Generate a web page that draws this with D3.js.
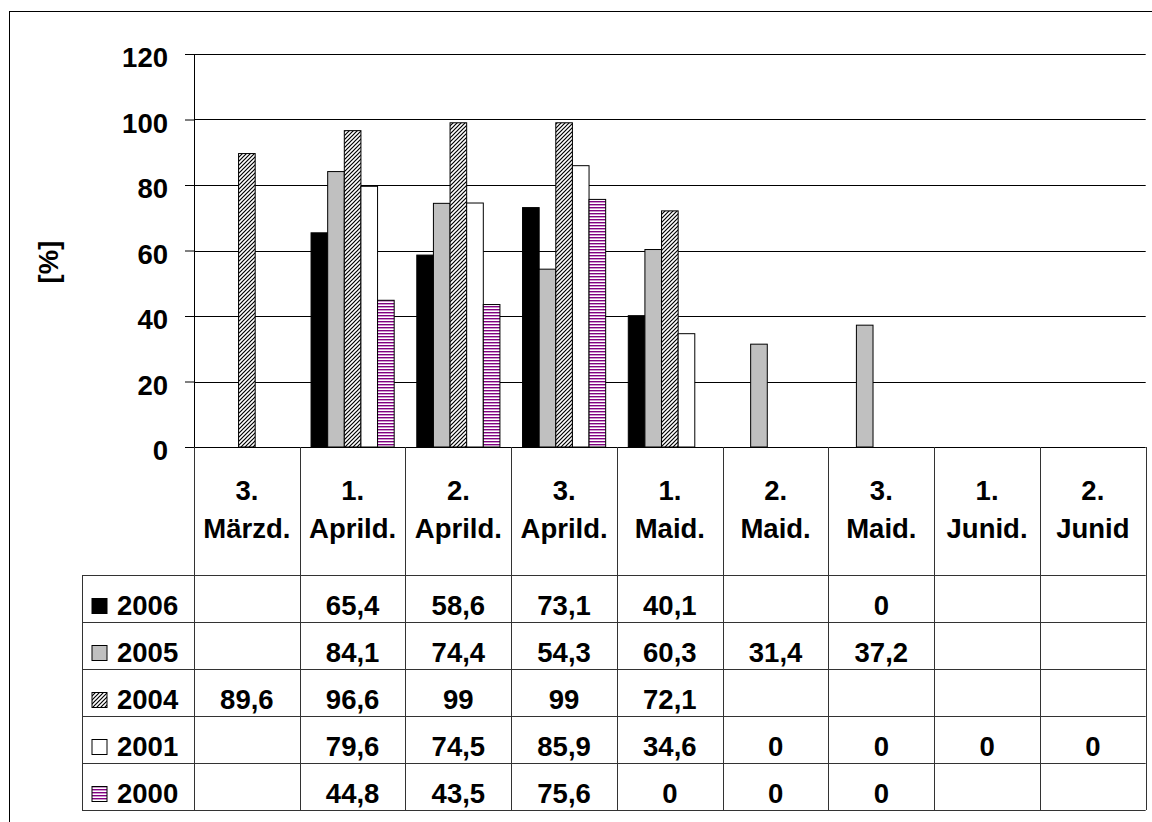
<!DOCTYPE html>
<html>
<head>
<meta charset="utf-8">
<script src="https://cdn.jsdelivr.net/npm/d3@7/dist/d3.min.js"></script>
<style>
  html, body { margin: 0; padding: 0; background: #fff; }
  svg { display: block; }
  text { font-family: "Liberation Sans", Arial, sans-serif; font-weight: bold; fill: #000; }
</style>
</head>
<body>
<svg id="chart" width="1152" height="822"></svg>
<script>
// ---------- data ----------
const categories = [
  ["3.", "Märzd."], ["1.", "Aprild."], ["2.", "Aprild."], ["3.", "Aprild."],
  ["1.", "Maid."], ["2.", "Maid."], ["3.", "Maid."], ["1.", "Junid."], ["2.", "Junid"]
];
const seriesNames = ["2006", "2005", "2004", "2001", "2000"];
const values2006 = [null, 65.4, 58.6, 73.1, 40.1, null, 0, null, null];
const values2005 = [null, 84.1, 74.4, 54.3, 60.3, 31.4, 37.2, null, null];
const values2004 = [89.6, 96.6, 99, 99, 72.1, null, null, null, null];
const values2001 = [null, 79.6, 74.5, 85.9, 34.6, 0, 0, 0, 0];
const values2000 = [null, 44.8, 43.5, 75.6, 0, 0, 0, null, null];
const yTicks = [0, 20, 40, 60, 80, 100, 120];
const yLabel = "[%]";

const seriesValues = [values2006, values2005, values2004, values2001, values2000];

// ---------- layout ----------
const svg = d3.select("#chart");
const plotLeft = 194, plotRight = 1145.7, plotTop = 54, plotBottom = 447;
const tableLeft = 82, headerBottom = 575, rowH = 47;
const fontSize = 27.5;

const defs = svg.append("defs");
const hatch = defs.append("pattern").attr("id", "hatch")
  .attr("patternUnits", "userSpaceOnUse").attr("width", 4).attr("height", 4);
hatch.append("rect").attr("width", 4).attr("height", 4).attr("fill", "#fff");
hatch.append("path").attr("d", "M-1,1 l2,-2 M0,4 l4,-4 M3,5 l2,-2")
  .attr("stroke", "#000").attr("stroke-width", 1.2);

const stripes = defs.append("pattern").attr("id", "stripes")
  .attr("patternUnits", "userSpaceOnUse").attr("width", 4).attr("height", 3);
stripes.append("rect").attr("width", 4).attr("height", 3).attr("fill", "#fff");
stripes.append("rect").attr("width", 4).attr("height", 1.4).attr("fill", "#800080");

const fills = ["#000000", "#c0c0c0", "url(#hatch)", "#ffffff", "url(#stripes)"];

// scales
const x0 = d3.scaleBand().domain(d3.range(categories.length)).range([plotLeft, plotRight]).paddingInner(0).paddingOuter(0);
const x1 = d3.scaleBand().domain(d3.range(seriesNames.length)).range([0, x0.bandwidth()]).paddingInner(0).paddingOuter(0.68);
const y = d3.scaleLinear().domain([0, 120]).range([plotBottom, plotTop]);

// outer frame
svg.append("rect").attr("x", 9.5).attr("y", 11.5).attr("width", 1160).attr("height", 830)
  .attr("fill", "none").attr("stroke", "#000").attr("stroke-width", 1);

// y axis ticks and labels
const yAxis = d3.axisLeft(y).tickValues(yTicks).tickSize(9).tickPadding(17).tickFormat(d3.format("d"));
const gy = svg.append("g").attr("transform", `translate(${plotLeft},0)`).call(yAxis);
gy.select(".domain").remove();
gy.selectAll(".tick line").attr("stroke", "#000");
gy.selectAll(".tick text").attr("font-size", fontSize).attr("dy", "0.46em")
  .style("font-family", '"Liberation Sans", Arial, sans-serif').style("font-weight", "bold").attr("fill", "#000");

// gridlines
svg.append("g").selectAll("line").data(yTicks.filter(d => d > 0)).join("line")
  .attr("x1", plotLeft).attr("x2", plotRight)
  .attr("y1", d => Math.round(y(d)) + 0.5).attr("y2", d => Math.round(y(d)) + 0.5)
  .attr("stroke", "#000").attr("stroke-width", 1);

// bars
const barData = [];
seriesValues.forEach((vals, s) => vals.forEach((v, c) => {
  if (v !== null && v > 0) barData.push({ s, c, v });
}));
svg.append("g").selectAll("rect").data(barData).join("rect")
  .attr("x", d => x0(d.c) + x1(d.s))
  .attr("width", x1.bandwidth())
  .attr("y", d => y(d.v))
  .attr("height", d => y(0) - y(d.v))
  .attr("fill", d => fills[d.s])
  .attr("stroke", "#000").attr("stroke-width", 1);

// y axis line
svg.append("line").attr("x1", plotLeft + 0.5).attr("x2", plotLeft + 0.5)
  .attr("y1", plotTop).attr("y2", plotBottom).attr("stroke", "#000");
// x axis line
svg.append("line").attr("x1", plotLeft).attr("x2", plotRight)
  .attr("y1", plotBottom + 0.5).attr("y2", plotBottom + 0.5).attr("stroke", "#000");

// y label
svg.append("text").attr("transform", "translate(58,262) rotate(-90)")
  .attr("text-anchor", "middle").attr("font-size", fontSize).text(yLabel);

// ---------- data table ----------
const tableBottom = headerBottom + rowH * seriesNames.length;
const tg = svg.append("g");
const divs = d3.range(categories.length + 1).map(i => i < categories.length ? x0(i) : plotRight);
tg.selectAll("line.v").data(divs).join("line").attr("class", "v")
  .attr("x1", d => Math.round(d) + 0.5).attr("x2", d => Math.round(d) + 0.5)
  .attr("y1", plotBottom).attr("y2", tableBottom)
  .attr("stroke", "#333");
tg.append("line").attr("x1", tableLeft + 0.5).attr("x2", tableLeft + 0.5)
  .attr("y1", headerBottom).attr("y2", tableBottom).attr("stroke", "#333");
tg.selectAll("line.h").data(d3.range(seriesNames.length + 1)).join("line").attr("class", "h")
  .attr("x1", tableLeft).attr("x2", plotRight)
  .attr("y1", d => headerBottom + d * rowH + 0.5).attr("y2", d => headerBottom + d * rowH + 0.5)
  .attr("stroke", "#333");

// header labels
categories.forEach((lines, i) => {
  const cx = x0(i) + x0.bandwidth() / 2;
  tg.append("text").attr("x", cx).attr("y", plotBottom + 53).attr("text-anchor", "middle")
    .attr("font-size", fontSize).text(lines[0]);
  tg.append("text").attr("x", cx).attr("y", plotBottom + 91).attr("text-anchor", "middle")
    .attr("font-size", fontSize).text(lines[1]);
});

// rows
const fmt = v => String(v).replace(".", ",");
seriesNames.forEach((name, s) => {
  const top = headerBottom + s * rowH;
  tg.append("rect").attr("x", 92).attr("y", top + 23.5).attr("width", 15).attr("height", 15)
    .attr("fill", fills[s]).attr("stroke", "#000").attr("stroke-width", 1);
  tg.append("text").attr("x", 117).attr("y", top + 39.5).attr("font-size", fontSize).text(name);
  seriesValues[s].forEach((v, c) => {
    if (v === null) return;
    tg.append("text").attr("x", x0(c) + x0.bandwidth() / 2).attr("y", top + 39.5)
      .attr("text-anchor", "middle").attr("font-size", fontSize).text(fmt(v));
  });
});
</script>
</body>
</html>
